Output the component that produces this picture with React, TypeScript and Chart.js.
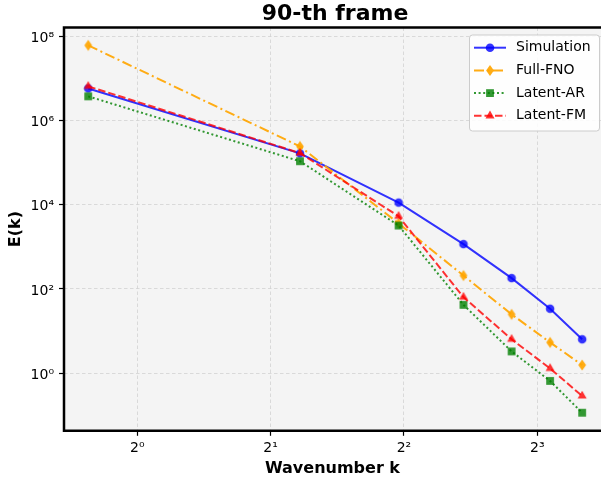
import React, { useEffect, useRef } from 'react';
import { Chart, registerables } from 'chart.js';

Chart.register(...registerables);

// ---- data ----
const wavenumbers = [0.775, 2.33, 3.89, 5.45, 7.0, 8.55, 10.1];
const simulation = [5.7e6, 1.65e5, 1.12e4, 1.16e3, 181, 34, 6.4];
const fullFNO = [6.0e7, 2.4e5, 3.6e3, 208, 25, 5.4, 1.57];
const latentAR = [3.7e6, 1.07e5, 3.2e3, 42, 3.3, 0.66, 0.116];
const latentFM = [6.4e6, 1.67e5, 5.3e3, 64, 6.4, 1.3, 0.29];
const seriesLabels = ['Simulation', 'Full-FNO', 'Latent-AR', 'Latent-FM'];

const xTicks = [1, 2, 4, 8];
const xTickLabels = ['2⁰', '2¹', '2²', '2³'];
const yTicks = [1, 1e2, 1e4, 1e6, 1e8];
const yTickLabels = ['10⁰', '10²', '10⁴', '10⁶', '10⁸'];

const xMin = 0.6833;
const xMax = 11.14;
const yMin = 0.04325;
const yMax = 1.591e8;

type Marker = 'circle' | 'diamond' | 'square' | 'triangle';

const seriesStyles: { color: string; dash: number[]; marker: Marker }[] = [
  { color: 'rgba(0,0,255,0.8)', dash: [], marker: 'circle' },
  { color: 'rgba(255,165,0,0.92)', dash: [10, 3.5, 2, 3.5], marker: 'diamond' },
  { color: 'rgba(0,128,0,0.8)', dash: [2, 2.6], marker: 'square' },
  { color: 'rgba(255,0,0,0.8)', dash: [7.5, 3], marker: 'triangle' },
];

function drawMarker(ctx: CanvasRenderingContext2D, marker: Marker, x: number, y: number, color: string) {
  ctx.save();
  ctx.fillStyle = color;
  ctx.setLineDash([]);
  ctx.beginPath();
  if (marker === 'circle') {
    ctx.arc(x, y, 4.3, 0, Math.PI * 2);
  } else if (marker === 'diamond') {
    ctx.moveTo(x, y - 5.5);
    ctx.lineTo(x + 3.9, y);
    ctx.lineTo(x, y + 5.5);
    ctx.lineTo(x - 3.9, y);
    ctx.closePath();
  } else if (marker === 'square') {
    ctx.rect(x - 3.9, y - 3.9, 7.8, 7.8);
  } else {
    const r = 5.2;
    ctx.moveTo(x, y - r);
    ctx.lineTo(x + r * 0.866, y + r / 2);
    ctx.lineTo(x - r * 0.866, y + r / 2);
    ctx.closePath();
  }
  ctx.fill();
  ctx.restore();
}

function markerCanvas(marker: Marker, color: string) {
  const c = document.createElement('canvas');
  c.width = 14;
  c.height = 14;
  const ctx = c.getContext('2d');
  if (ctx) drawMarker(ctx, marker, 7, 7, color);
  return c;
}

const decorPlugin = {
  id: 'decor',
  beforeDraw(chart: any) {
    const { ctx, chartArea } = chart;
    const { left, top, right, bottom } = chartArea;
    ctx.save();
    ctx.fillStyle = '#ffffff';
    ctx.fillRect(0, 0, chart.width, chart.height);
    ctx.fillStyle = '#f4f4f4';
    ctx.fillRect(left, top, right - left, bottom - top);
    ctx.restore();
  },
  afterDraw(chart: any) {
    const { ctx, chartArea } = chart;
    const { left, top, right, bottom } = chartArea;
    ctx.save();
    // spines
    ctx.strokeStyle = '#000';
    ctx.lineWidth = 2.5;
    ctx.setLineDash([]);
    ctx.beginPath();
    ctx.moveTo(right + 2, top);
    ctx.lineTo(left, top);
    ctx.lineTo(left, bottom);
    ctx.lineTo(right + 2, bottom);
    ctx.stroke();

    // title
    ctx.fillStyle = '#000';
    ctx.font = 'bold 22px "DejaVu Sans"';
    ctx.textAlign = 'center';
    ctx.textBaseline = 'alphabetic';
    ctx.fillText('90-th frame', 335, 19.5);

    // legend
    const lx = 469.5, ly = 35, lw = 130, lh = 96, rr = 3;
    ctx.beginPath();
    ctx.moveTo(lx + rr, ly);
    ctx.lineTo(lx + lw - rr, ly);
    ctx.arcTo(lx + lw, ly, lx + lw, ly + rr, rr);
    ctx.lineTo(lx + lw, ly + lh - rr);
    ctx.arcTo(lx + lw, ly + lh, lx + lw - rr, ly + lh, rr);
    ctx.lineTo(lx + rr, ly + lh);
    ctx.arcTo(lx, ly + lh, lx, ly + lh - rr, rr);
    ctx.lineTo(lx, ly + rr);
    ctx.arcTo(lx, ly, lx + rr, ly, rr);
    ctx.closePath();
    ctx.fillStyle = 'rgba(255,255,255,0.85)';
    ctx.fill();
    ctx.strokeStyle = '#cccccc';
    ctx.lineWidth = 1;
    ctx.stroke();

    seriesLabels.forEach((label, i) => {
      const st = seriesStyles[i];
      const y = 47.7 + i * 22.7;
      ctx.beginPath();
      ctx.setLineDash(st.dash);
      ctx.strokeStyle = st.color;
      ctx.lineWidth = 2;
      ctx.moveTo(474, y);
      ctx.lineTo(506, y);
      ctx.stroke();
      ctx.setLineDash([]);
      drawMarker(ctx, st.marker, 490, y, st.color);
      ctx.fillStyle = '#000';
      ctx.font = '14px "DejaVu Sans"';
      ctx.textAlign = 'left';
      ctx.textBaseline = 'middle';
      ctx.fillText(label, 516, y);
    });
    ctx.restore();
  },
};

export default function App() {
  const canvasRef = useRef<HTMLCanvasElement | null>(null);

  useEffect(() => {
    const canvas = canvasRef.current;
    if (!canvas) return;
    const values = [simulation, fullFNO, latentAR, latentFM];
    const chart = new Chart(canvas, {
      type: 'line',
      data: {
        datasets: seriesLabels.map((label, i) => ({
          label,
          data: wavenumbers.map((k, j) => ({ x: k, y: values[i][j] })),
          borderColor: seriesStyles[i].color,
          backgroundColor: seriesStyles[i].color,
          borderWidth: 2,
          borderDash: seriesStyles[i].dash,
          pointStyle: markerCanvas(seriesStyles[i].marker, seriesStyles[i].color),
          pointRadius: 4,
          pointHoverRadius: 4,
          tension: 0,
          fill: false,
          order: 3 - i,
        })),
      },
      options: {
        responsive: false,
        animation: false,
        devicePixelRatio: 1,
        events: [],
        layout: { autoPadding: false, padding: { top: 27.5, left: 0, right: 0, bottom: 0 } },
        plugins: {
          legend: { display: false },
          title: { display: false },
          tooltip: { enabled: false },
        },
        scales: {
          x: {
            type: 'logarithmic',
            position: 'bottom',
            min: xMin,
            max: xMax,
            bounds: 'data',
            afterBuildTicks: (s: any) => {
              s.ticks = xTicks.map((v) => ({ value: v }));
            },
            afterFit: (s: any) => {
              s.height = 50.2;
              s.paddingLeft = 0;
              s.paddingRight = 0;
            },
            ticks: {
              autoSkip: false,
              maxRotation: 0,
              minRotation: 0,
              padding: 4,
              color: '#000',
              font: { family: 'DejaVu Sans', size: 14 },
              callback: (_v: any, idx: number) => xTickLabels[idx] ?? '',
            },
            grid: {
              color: '#d2d2d2',
              lineWidth: 0.8,
              drawTicks: true,
              tickLength: 5,
              tickColor: '#000',
              tickWidth: 1.2,
            },
            border: { display: false, dash: [3.5, 2.5] },
            title: {
              display: true,
              text: 'Wavenumber k',
              color: '#000',
              font: { family: 'DejaVu Sans', size: 16, weight: 'bold' },
              padding: { top: 0, bottom: 2.4 },
            },
          },
          y: {
            type: 'logarithmic',
            position: 'left',
            min: yMin,
            max: yMax,
            bounds: 'data',
            afterBuildTicks: (s: any) => {
              s.ticks = yTicks.map((v) => ({ value: v }));
            },
            afterFit: (s: any) => {
              s.width = 64;
              s.paddingTop = 0;
              s.paddingBottom = 0;
            },
            ticks: {
              autoSkip: false,
              padding: 5,
              labelOffset: 2,
              color: '#000',
              font: { family: 'DejaVu Sans', size: 14 },
              callback: (_v: any, idx: number) => yTickLabels[idx] ?? '',
            },
            grid: {
              color: '#d2d2d2',
              lineWidth: 0.8,
              drawTicks: true,
              tickLength: 5,
              tickColor: '#000',
              tickWidth: 1.2,
            },
            border: { display: false, dash: [3.5, 2.5] },
            title: {
              display: true,
              text: 'E(k)',
              color: '#000',
              font: { family: 'DejaVu Sans', size: 16, weight: 'bold' },
              padding: { top: 6, bottom: 0 },
            },
          },
        },
      } as any,
      plugins: [decorPlugin],
    });
    return () => chart.destroy();
  }, []);

  return (
    <canvas
      ref={canvasRef}
      width={601}
      height={481}
      style={{ position: 'fixed', left: 0, top: 0, width: 601, height: 481, display: 'block' }}
    />
  );
}
